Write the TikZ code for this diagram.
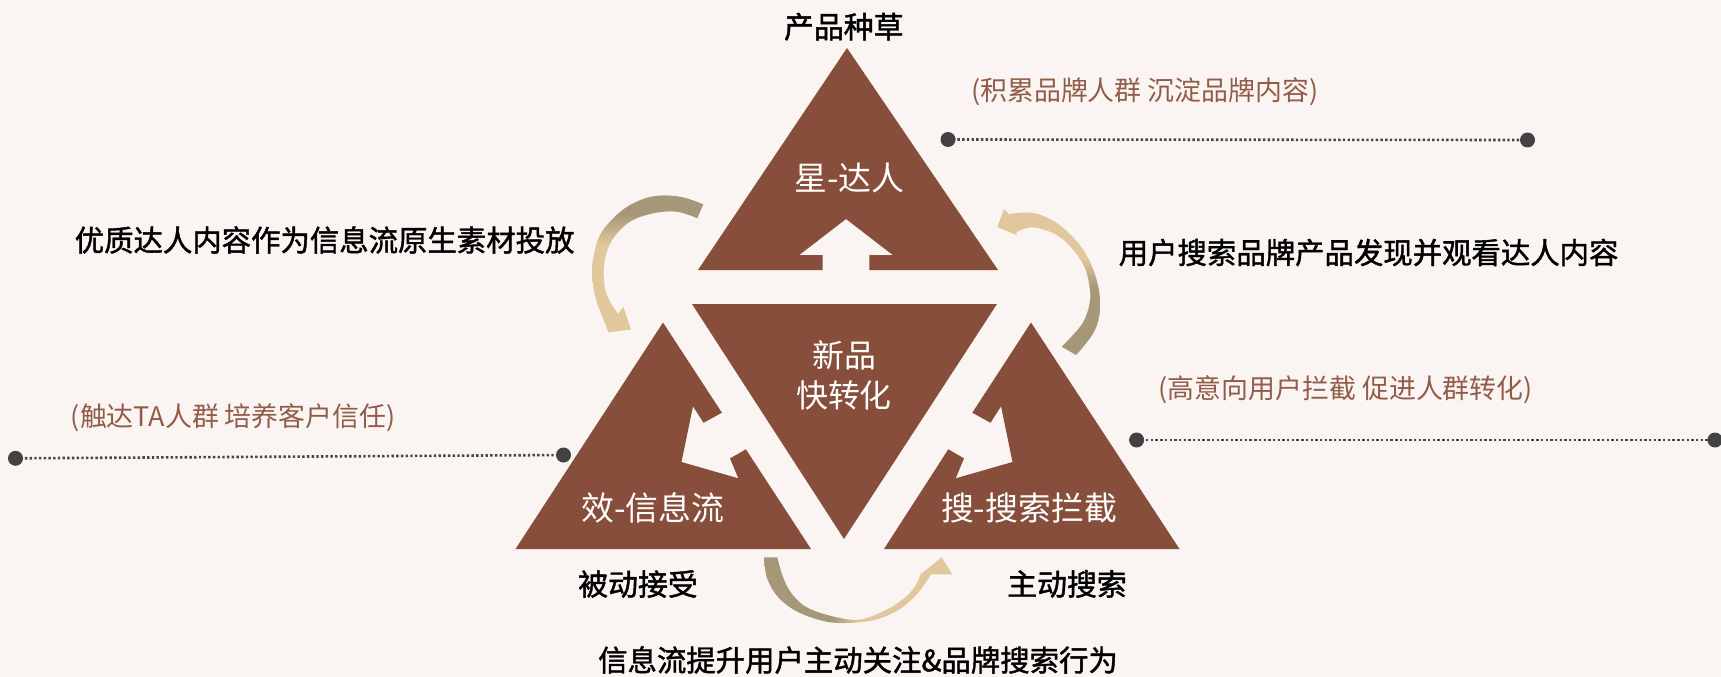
\documentclass[tikz,border=0pt]{standalone}
\usepackage{fontspec}
\setmainfont{Noto Sans CJK SC}
\newfontfamily\cjkm[FakeBold=1.4]{Noto Sans CJK SC}
\definecolor{tri}{RGB}{135,79,59}
\definecolor{brn}{RGB}{146,92,72}
\definecolor{bgc}{RGB}{250,245,242}
\definecolor{dotc}{RGB}{66,66,66}
\definecolor{linec}{RGB}{70,70,70}
\definecolor{ardark}{RGB}{166,151,120}
\definecolor{arlight}{RGB}{224,199,156}
\pgfdeclareverticalshading{arrA}{100bp}{color(0bp)=(arlight); color(57bp)=(arlight); color(68bp)=(ardark); color(100bp)=(ardark)}
\pgfdeclareverticalshading{arrB}{100bp}{color(0bp)=(ardark); color(48bp)=(ardark); color(58bp)=(arlight); color(100bp)=(arlight)}
\pgfdeclarehorizontalshading{arrC}{100bp}{color(0bp)=(ardark); color(43bp)=(ardark); color(50bp)=(arlight); color(100bp)=(arlight)}
\tikzset{
  blk/.style={text=black, inner sep=0pt, font=\cjkm\fontsize{29.5}{36}\selectfont},
  blks/.style={text=black, inner sep=0pt, font=\cjkm\fontsize{30}{36}\selectfont},
  note/.style={text=brn, inner sep=0pt, font=\fontsize{27}{32}\selectfont},
  wht/.style={text=white, inner sep=0pt, font=\fontsize{33}{40}\selectfont},
  tribox/.style={fill=tri},
  dotline/.style={draw=linec, line width=2.6bp, dash pattern=on 2.4bp off 2.3bp},
  dotend/.style={fill=dotc},
}
\begin{document}
\begin{tikzpicture}[x=1bp,y=-1bp]
\useasboundingbox (0,0) rectangle (1721,677);
\fill[bgc] (0,0) rectangle (1721,677);

% triangles
\fill[tribox] (847,48) -- (998,270) -- (869.3,270) -- (869.3,255) -- (892.7,255) -- (846,219)
  -- (799.3,255) -- (822.7,255) -- (822.7,270) -- (698,270) -- cycle;
\fill[tribox] (692,304) -- (997,304) -- (844,539) -- cycle;
\fill[tribox] (663,322.5) -- (721.9,412.7) -- (703.5,422.8) -- (693,406.3) -- (681.5,462)
  -- (738.3,478.3) -- (730,458.4) -- (745.9,449.3) -- (811,549) -- (515.5,549) -- cycle;
\fill[tribox] (1031,322.5) -- (972.3,412.7) -- (990.5,422.8) -- (1001,406.3) -- (1012.5,462)
  -- (955.7,478.3) -- (964,458.4) -- (948.3,449.3) -- (884,549) -- (1179.5,549) -- cycle;

% curved arrows
\shade[shading=arrA]
  plot[smooth, tension=0.6] coordinates {(703.3,204.3) (680,196.7) (653.3,196.3) (630,205) (613.3,218.3) (600,235) (593.3,258.3) (592.7,281.7) (596.7,301.7) (603,318) (608.3,332.3)}
  -- (631,329.5) -- (623.3,306.7) -- (618,314)
  -- plot[smooth, tension=0.6] coordinates {(618,314) (608.3,298.3) (604,281.7) (605,258.3) (613.3,238.3) (630,221.7) (653.3,213.3) (676.7,211.7) (697.3,218.3)}
  -- cycle;
\shade[shading=arrB]
  (997.3,227) -- (1004,209.3) -- (1009,214)
  -- plot[smooth, tension=0.6] coordinates {(1009,214) (1033.3,213) (1056.7,223) (1076.7,241.3) (1090,262) (1098.3,286.7) (1100,310) (1095,330) (1083.3,346.7) (1076,355)}
  -- (1061.7,346.7)
  -- plot[smooth, tension=0.6] coordinates {(1061.7,346.7) (1072,336) (1083.3,322) (1089.3,305) (1090,290) (1085,268.3) (1073.3,250) (1056.7,235) (1033.3,227.3) (1016.7,232)}
  -- (1016.7,235) -- cycle;
\shade[shading=arrC]
  plot[smooth, tension=0.6] coordinates {(764,557.3) (767,578) (778,597) (798,612) (826.7,621.7) (853.3,622.7) (878,619) (900,609) (916,595) (926,582) (931,574.3)}
  -- (952.3,574.3) -- (941.7,557.3) -- (920.7,574.3)
  -- plot[smooth, tension=0.6] coordinates {(920.7,574.3) (914,588) (902,600) (884,611) (860,619.5) (836.7,617.3) (808,608) (792,594) (783,577) (777.3,557.3)}
  -- cycle;

% dotted leaders
\coordinate (d1) at (948,139.5);
\coordinate (d2) at (1527.5,140);
\coordinate (d3) at (15.5,458.3);
\coordinate (d4) at (563.5,455);
\coordinate (d5) at (1136.6,440);
\coordinate (d6) at (1715,440);
\draw[dotline] (d1) -- (d2);
\draw[dotline] (d3) -- (d4);
\draw[dotline] (d5) -- (d6);
\foreach \d in {d1,d2,d3,d4,d5,d6} \fill[dotend] (\d) circle[radius=7.5];

% texts
\node[blks] (t1) at (843.8,26.7) {产品种草};
\node[wht] (t2) at (849.3,178) {星-达人};
\node[wht, align=center, font=\fontsize{32}{40}\selectfont] (t3) at (844,375.7) {新品\\快转化};
\node[wht] (t4) at (653,507.7) {效-信息流};
\node[wht] (t5) at (1029,508) {搜-搜索拦截};
\node[blks] (t6) at (638,584) {被动接受};
\node[blks] (t7) at (1067,584) {主动搜索};
\node[blk, anchor=west] (t8) at (598,660) {信息流提升用户主动关注\&品牌搜索行为};
\node[blk, anchor=west] (t9) at (74.6,240) {优质达人内容作为信息流原生素材投放};
\node[blk, anchor=west] (t10) at (1118.6,252.5) {用户搜索品牌产品发现并观看达人内容};
\node[note, anchor=west] (t11) at (971,92) {(积累品牌人群 沉淀品牌内容)};
\node[note, anchor=west] (t12) at (70.8,417.5) {(触达TA人群 培养客户信任)};
\node[note, anchor=west] (t13) at (1158.6,390) {(高意向用户拦截 促进人群转化)};
\end{tikzpicture}
\end{document}
